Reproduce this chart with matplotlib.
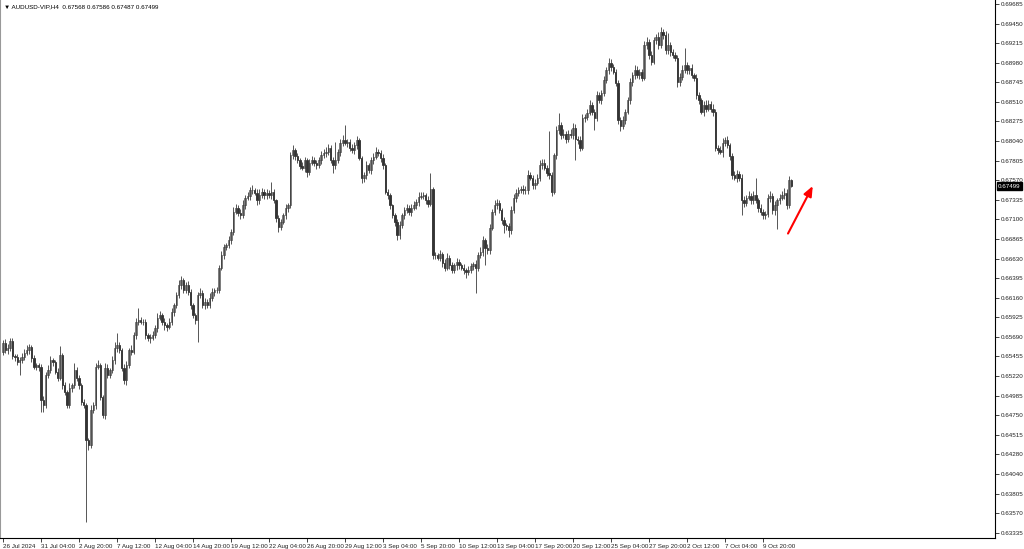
import matplotlib
matplotlib.use("Agg")
import matplotlib.pyplot as plt
import matplotlib.transforms as mtransforms

plt.rcParams["font.family"] = ["Liberation Sans", "DejaVu Sans"]

# AUDUSD H4 closes
first_open = 0.6551
closes = [
    0.6562, 0.6553, 0.6555, 0.6564, 0.6546, 0.6545, 0.6539, 0.6541, 0.6545, 0.6550,
    0.6553, 0.6557, 0.6543, 0.6533, 0.6535, 0.6533, 0.6493, 0.6487, 0.6523, 0.6529,
    0.6541, 0.6539, 0.6527, 0.6520, 0.6547, 0.6511, 0.6503, 0.6487, 0.6508, 0.6511,
    0.6529, 0.6520, 0.6511, 0.6491, 0.6487, 0.6445, 0.6439, 0.6481, 0.6487, 0.6533,
    0.6535, 0.6497, 0.6475, 0.6532, 0.6523, 0.6529, 0.6541, 0.6555, 0.6559, 0.6553,
    0.6532, 0.6517, 0.6535, 0.6553, 0.6551, 0.6571, 0.6587, 0.6589, 0.6587, 0.6587,
    0.6571, 0.6568, 0.6568, 0.6571, 0.6580, 0.6592, 0.6595, 0.6587, 0.6583, 0.6581,
    0.6587, 0.6599, 0.6607, 0.6619, 0.6631, 0.6637, 0.6625, 0.6631, 0.6623, 0.6607,
    0.6595, 0.6589, 0.6619, 0.6622, 0.6607, 0.6611, 0.6607, 0.6616, 0.6623, 0.6625,
    0.6625, 0.6652, 0.6667, 0.6677, 0.6679, 0.6685, 0.6695, 0.6719, 0.6724, 0.6718,
    0.6715, 0.6727, 0.6736, 0.6738, 0.6745, 0.6745, 0.6742, 0.6733, 0.6739, 0.6743,
    0.6739, 0.6742, 0.6739, 0.6743, 0.6733, 0.6712, 0.6701, 0.6707, 0.6715, 0.6724,
    0.6727, 0.6787, 0.6793, 0.6786, 0.6781, 0.6774, 0.6772, 0.6781, 0.6767, 0.6778,
    0.6781, 0.6778, 0.6775, 0.6781, 0.6787, 0.6790, 0.6791, 0.6796, 0.6781, 0.6775,
    0.6781, 0.6791, 0.6802, 0.6805, 0.6802, 0.6803, 0.6796, 0.6793, 0.6799, 0.6805,
    0.6784, 0.6760, 0.6763, 0.6775, 0.6769, 0.6781, 0.6785, 0.6791, 0.6790, 0.6784,
    0.6775, 0.6743, 0.6739, 0.6727, 0.6715, 0.6707, 0.6691, 0.6703, 0.6715, 0.6721,
    0.6724, 0.6719, 0.6724, 0.6727, 0.6731, 0.6737, 0.6738, 0.6739, 0.6733, 0.6729,
    0.6747, 0.6667, 0.6667, 0.6664, 0.6668, 0.6658, 0.6652, 0.6664, 0.6655, 0.6649,
    0.6655, 0.6659, 0.6655, 0.6652, 0.6649, 0.6647, 0.6649, 0.6654, 0.6656, 0.6652,
    0.6667, 0.6671, 0.6685, 0.6676, 0.6673, 0.6700, 0.6719, 0.6727, 0.6730, 0.6721,
    0.6709, 0.6703, 0.6702, 0.6697, 0.6721, 0.6736, 0.6742, 0.6745, 0.6747, 0.6745,
    0.6745, 0.6763, 0.6760, 0.6751, 0.6754, 0.6760, 0.6775, 0.6778, 0.6772, 0.6766,
    0.6763, 0.6743, 0.6787, 0.6817, 0.6823, 0.6811, 0.6813, 0.6807, 0.6813, 0.6811,
    0.6820, 0.6807, 0.6805, 0.6796, 0.6832, 0.6833, 0.6838, 0.6847, 0.6839, 0.6832,
    0.6859, 0.6853, 0.6862, 0.6877, 0.6889, 0.6898, 0.6893, 0.6887, 0.6874, 0.6829,
    0.6822, 0.6829, 0.6839, 0.6853, 0.6875, 0.6883, 0.6889, 0.6883, 0.6887, 0.6880,
    0.6919, 0.6923, 0.6907, 0.6899, 0.6925, 0.6929, 0.6919, 0.6935, 0.6931, 0.6913,
    0.6919, 0.6911, 0.6907, 0.6904, 0.6875, 0.6881, 0.6889, 0.6895, 0.6889, 0.6892,
    0.6883, 0.6880, 0.6859, 0.6853, 0.6839, 0.6847, 0.6843, 0.6849, 0.6843, 0.6839,
    0.6796, 0.6793, 0.6791, 0.6802, 0.6805, 0.6799, 0.6786, 0.6763, 0.6760, 0.6765,
    0.6760, 0.6733, 0.6730, 0.6736, 0.6738, 0.6733, 0.6739, 0.6733, 0.6724, 0.6719,
    0.6715, 0.6716, 0.6736, 0.6738, 0.6721, 0.6727, 0.6733, 0.6736, 0.6739, 0.6742,
    0.6727, 0.67568, 0.67499,
]

# wick lengths above / below the body, in pips
upper_pips = [
    3, 4, 5, 3, 4, 2, 3, 4, 5, 4,
    6, 3, 2, 4, 3, 2, 3, 5, 4, 6,
    5, 3, 2, 4, 11, 3, 4, 2, 5, 3,
    8, 4, 3, 2, 3, 3, 2, 6, 4, 5,
    6, 3, 2, 5, 4, 3, 5, 8, 15, 4,
    3, 4, 5, 3, 6, 4, 5, 14, 4, 3,
    3, 2, 4, 5, 3, 6, 5, 3, 4, 3,
    4, 5, 3, 4, 6, 5, 3, 4, 5, 3,
    2, 3, 4, 5, 3, 4, 3, 5, 4, 3,
    4, 3, 5, 4, 3, 5, 4, 6, 5, 3,
    4, 6, 3, 5, 4, 6, 3, 4, 8, 5,
    3, 4, 3, 12, 3, 2, 3, 4, 3, 4,
    3, 4, 6, 3, 4, 3, 5, 4, 3, 4,
    5, 4, 3, 4, 5, 4, 6, 5, 3, 4,
    22, 4, 5, 6, 18, 4, 3, 5, 4, 5,
    3, 2, 4, 5, 3, 4, 5, 6, 4, 3,
    4, 3, 4, 3, 2, 3, 4, 5, 3, 4,
    5, 3, 4, 5, 4, 6, 5, 4, 3, 5,
    19, 2, 4, 3, 5, 3, 4, 6, 3, 4,
    3, 5, 4, 3, 4, 3, 5, 4, 3, 5,
    4, 6, 5, 3, 4, 5, 4, 6, 5, 3,
    3, 4, 3, 4, 5, 4, 5, 4, 3, 4,
    5, 6, 4, 3, 5, 4, 6, 5, 4, 3,
    50, 4, 3, 5, 15, 4, 5, 3, 4, 5,
    6, 4, 3, 5, 4, 3, 5, 6, 4, 3,
    5, 4, 3, 5, 4, 6, 5, 3, 4, 3,
    4, 5, 3, 4, 5, 4, 6, 5, 4, 3,
    5, 6, 4, 5, 4, 3, 6, 6, 4, 5,
    15, 4, 3, 4, 3, 5, 6, 21, 4, 3,
    4, 3, 5, 4, 3, 5, 6, 4, 3, 5,
    4, 3, 5, 6, 4, 5, 3, 4, 5, 4,
    3, 4, 5, 3, 6, 4, 5, 21, 3, 4,
    3, 4, 5, 6, 4, 5, 3, 4, 5, 6,
    4, 5, 1.8,
]
lower_pips = [
    4, 3, 5, 3, 4, 5, 4, 16, 3, 4,
    3, 5, 4, 3, 4, 5, 14, 8, 4, 3,
    4, 5, 3, 4, 3, 5, 4, 3, 4, 5,
    3, 4, 5, 4, 3, 98, 6, 3, 4, 5,
    3, 4, 4, 5, 3, 4, 3, 5, 4, 3,
    4, 5, 6, 3, 4, 3, 5, 4, 3, 4,
    5, 4, 6, 3, 4, 5, 3, 4, 6, 5,
    3, 4, 5, 4, 3, 5, 4, 3, 4, 5,
    4, 5, 26, 4, 3, 5, 4, 3, 4, 5,
    3, 4, 3, 5, 4, 3, 5, 4, 3, 4,
    5, 3, 4, 3, 5, 4, 3, 6, 4, 3,
    4, 5, 3, 4, 3, 5, 6, 4, 3, 4,
    5, 3, 4, 5, 3, 4, 3, 5, 6, 4,
    3, 4, 5, 3, 4, 3, 5, 4, 3, 9,
    4, 3, 5, 4, 3, 5, 4, 3, 4, 5,
    3, 6, 5, 4, 3, 5, 4, 3, 4, 5,
    4, 3, 5, 4, 3, 5, 6, 4, 3, 4,
    3, 4, 5, 3, 4, 5, 3, 4, 5, 4,
    3, 4, 5, 3, 4, 5, 4, 3, 5, 4,
    3, 6, 4, 3, 5, 7, 4, 3, 5, 30,
    4, 3, 5, 21, 4, 5, 3, 4, 5, 3,
    4, 9, 5, 8, 4, 3, 5, 4, 3, 4,
    5, 4, 3, 5, 4, 3, 4, 5, 3, 4,
    4, 5, 3, 4, 5, 4, 3, 5, 4, 3,
    4, 26, 5, 4, 3, 5, 4, 3, 4, 15,
    4, 3, 5, 4, 3, 4, 5, 3, 4, 5,
    6, 4, 5, 3, 4, 5, 4, 3, 5, 4,
    3, 4, 5, 4, 3, 5, 4, 3, 4, 5,
    4, 5, 3, 4, 6, 5, 4, 3, 4, 5,
    3, 4, 5, 4, 3, 5, 4, 3, 4, 5,
    4, 5, 3, 6, 4, 3, 5, 4, 3, 5,
    4, 18, 5, 4, 3, 5, 4, 3, 5, 4,
    5, 4, 3, 5, 4, 6, 28, 4, 3, 5,
    4, 3, 1.2,
]

price_ticks = [0.69685, 0.69450, 0.69215, 0.68980, 0.68745, 0.68510, 0.68275,
               0.68040, 0.67805, 0.67570, 0.67335, 0.67100, 0.66865, 0.66630,
               0.66395, 0.66160, 0.65925, 0.65690, 0.65455, 0.65220, 0.64985,
               0.64750, 0.64515, 0.64280, 0.64040, 0.63805, 0.63570, 0.63335]
time_labels = ["26 Jul 2024", "31 Jul 04:00", "2 Aug 20:00", "7 Aug 12:00",
               "12 Aug 04:00", "14 Aug 20:00", "19 Aug 12:00", "22 Aug 04:00",
               "26 Aug 20:00", "29 Aug 12:00", "3 Sep 04:00", "5 Sep 20:00",
               "10 Sep 12:00", "13 Sep 04:00", "17 Sep 20:00", "20 Sep 12:00",
               "25 Sep 04:00", "27 Sep 20:00", "2 Oct 12:00", "7 Oct 04:00",
               "9 Oct 20:00"]
bars_per_label = 16
last_price = 0.67499
header = "AUDUSD-VIP,H4  0.67568 0.67586 0.67487 0.67499"
arrow_from = (330.0, 0.6690)
arrow_to = (341.5, 0.6753)

n = min(len(closes), len(upper_pips), len(lower_pips))
opens = [first_open] + closes[:n - 1]

fig = plt.figure(figsize=(10.24, 5.49), dpi=100)
ax = fig.add_axes([0.0, 11 / 549, 995 / 1024, 538 / 549])

for i in range(n):
    o, c = opens[i], closes[i]
    top, bot = max(o, c), min(o, c)
    hi = top + upper_pips[i] / 10000
    lo = bot - lower_pips[i] / 10000
    ax.vlines(i, lo, hi, color="#3a3a3a", lw=0.6)
    if c >= o:
        face, edge = "#d0d0d0", "#404040"
    else:
        face, edge = "#111111", "#111111"
    ax.bar(i, max(top - bot, 0.00003), bottom=bot, width=0.62,
           color=face, edgecolor=edge, linewidth=0.45)

ax.set_xlim(-1.26, 417.7)
ax.set_ylim(0.63275, 0.69733)

ax.yaxis.tick_right()
ax.set_yticks(price_ticks)
ax.set_yticklabels(["%.5f" % p for p in price_ticks])
ax.set_xticks([k * bars_per_label for k in range(len(time_labels))])
ax.set_xticklabels(time_labels)
for lbl in ax.get_xticklabels():
    lbl.set_horizontalalignment("left")
ax.tick_params(axis="y", labelsize=4.5, length=3, width=0.6, pad=1.2, colors="#222222")
ax.tick_params(axis="x", labelsize=4.5, length=3, width=0.6, pad=1.2, colors="#222222")

ax.spines["top"].set_visible(False)
ax.spines["left"].set_color("#999999")
ax.spines["left"].set_linewidth(1.5)
ax.spines["right"].set_linewidth(0.8)
ax.spines["bottom"].set_linewidth(0.8)

# current price marker on the price scale
trans = mtransforms.blended_transform_factory(ax.transAxes, ax.transData)
ax.text(1.003, last_price, "%.5f" % last_price, transform=trans, fontsize=4.5,
        color="white", va="center", ha="left",
        bbox=dict(boxstyle="square,pad=0.2", fc="black", ec="black"),
        clip_on=False)

ax.text(0.004, 0.992, "\u25bc " + header, transform=ax.transAxes, fontsize=4.5,
        color="black", va="top", ha="left")

ax.annotate("", xy=arrow_to, xytext=arrow_from,
            arrowprops=dict(arrowstyle="-|>,head_length=0.6,head_width=0.25",
                            color="red", lw=1.5))

fig.savefig("out.png", dpi=100)
